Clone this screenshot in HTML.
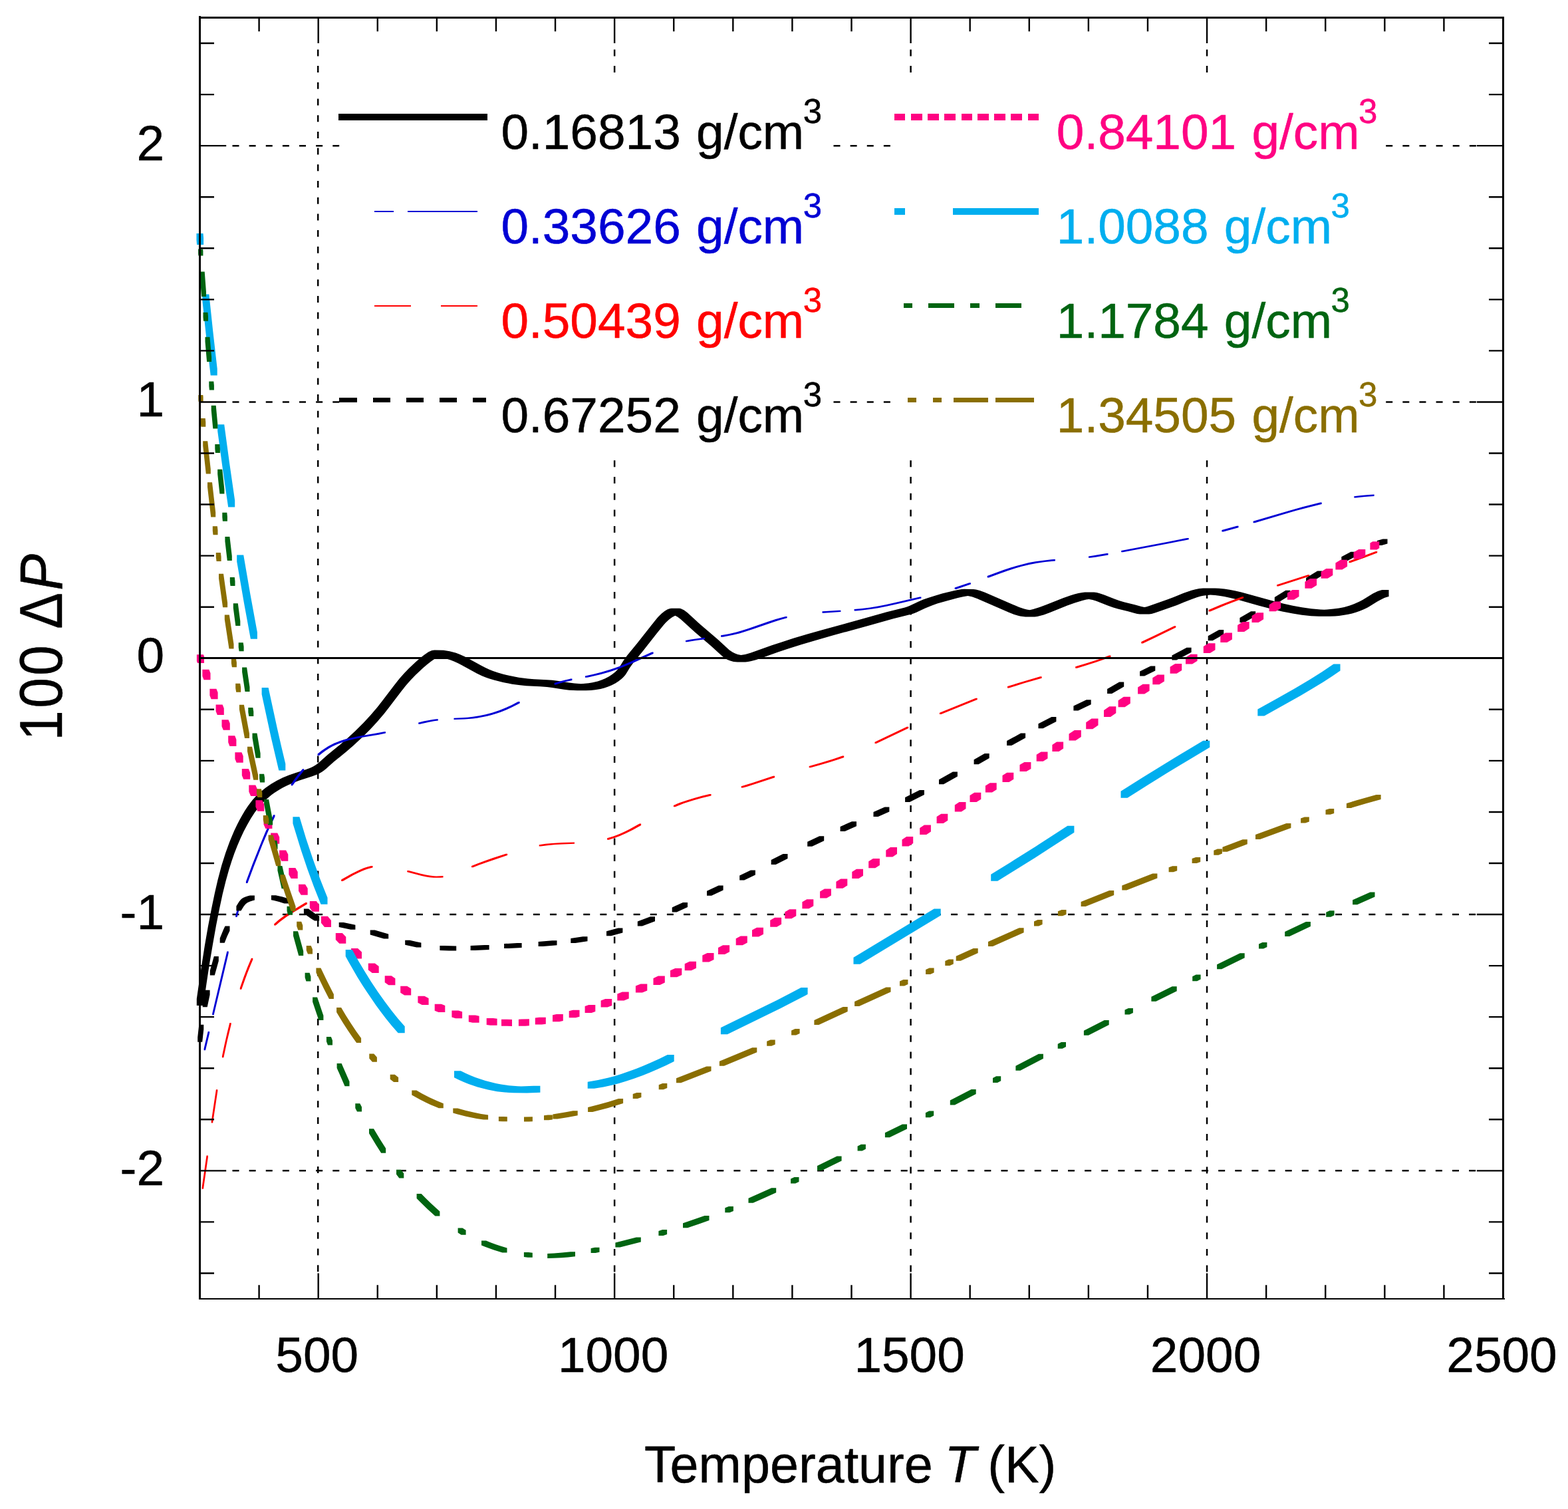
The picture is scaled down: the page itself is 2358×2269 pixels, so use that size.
<!DOCTYPE html>
<html lang="en"><head><meta charset="utf-8"><title>100 ΔP versus Temperature T (K)</title>
<style>html,body{margin:0;padding:0;background:#fff}body{width:2358px;height:2269px;overflow:hidden}svg{display:block}text{font-family:"Liberation Sans", sans-serif;stroke-width:0.5px;stroke-linejoin:round}</style>
</head><body>
<svg width="2358" height="2269" viewBox="0 0 2358 2269" role="img" aria-label="Plot of 100 ΔP against temperature T (K) for eight densities">
<rect x="0" y="0" width="2358" height="2269" fill="#fff"/>
<g id="grid" stroke="#000" stroke-width="2.5" fill="none">
<line x1="349.5" y1="219.15" x2="510.2" y2="219.15" stroke-dasharray="10 15.13"/>
<line x1="1253.5" y1="219.15" x2="1339.2" y2="219.15" stroke-dasharray="10 15.13"/>
<line x1="2084.2" y1="219.15" x2="2220.0" y2="219.15" stroke-dasharray="10 15.13"/>
<line x1="349.5" y1="604.45" x2="510.2" y2="604.45" stroke-dasharray="10 15.13"/>
<line x1="1253.5" y1="604.45" x2="1339.2" y2="604.45" stroke-dasharray="10 15.13"/>
<line x1="2084.2" y1="604.45" x2="2220.0" y2="604.45" stroke-dasharray="10 15.13"/>
<line x1="349.5" y1="1375.05" x2="2220.0" y2="1375.05" stroke-dasharray="10 15.13"/>
<line x1="349.5" y1="1760.35" x2="2220.0" y2="1760.35" stroke-dasharray="10 15.13"/>
<line x1="478.18" y1="74.4" x2="478.18" y2="1913.0" stroke-dasharray="10 14.70"/>
<line x1="924.14" y1="74.4" x2="924.14" y2="110.0" stroke-dasharray="10 14.70"/>
<line x1="924.14" y1="692.3" x2="924.14" y2="1913.0" stroke-dasharray="10 14.70"/>
<line x1="1369.59" y1="74.4" x2="1369.59" y2="110.0" stroke-dasharray="10 14.70"/>
<line x1="1369.59" y1="692.3" x2="1369.59" y2="1913.0" stroke-dasharray="10 14.70"/>
<line x1="1815.05" y1="74.4" x2="1815.05" y2="110.0" stroke-dasharray="10 14.70"/>
<line x1="1815.05" y1="692.3" x2="1815.05" y2="1913.0" stroke-dasharray="10 14.70"/>
</g>
<g id="curves" stroke="none">
<path fill="#000000" d="M327.5 1322.9L323 1342.4L318.1 1366L312.8 1393.5L308 1421L302.1 1458.5L295.8 1502.1L295.8 1512.1L305.8 1512.1L310.6 1478.4L315.1 1448.7L320.1 1419.2L325 1391.7L330.1 1366.1L334.7 1344.6L339.5 1325.1L344.3 1307.8L348.5 1294.4L352.5 1283.1L356.8 1271.9L361.5 1260.9L366.6 1250.1L372.2 1239.4L377.2 1230.7L382.7 1222.3L386.2 1217.5L389.9 1212.8L394.6 1207.6L398.1 1204L403.3 1199.4L407.9 1195.6L412.8 1192L419.5 1187.7L424.6 1184.7L430 1181.9L440.9 1176.9L450.3 1173.4L469.6 1167.3L477 1164.5L480.6 1162.8L484 1160.8L487.2 1158.5L490.3 1156L502 1145.6L520.5 1130.4L531.5 1120.9L544.4 1109.1L556.7 1096.7L566.9 1085.7L577.6 1073.2L585 1063.8L603.1 1039.9L610.6 1030.5L617.9 1022.3L624.9 1015L635.5 1005L641.6 999.8L647.9 994.7L651.1 992.4L654.4 990.3L657.8 988.7L659.6 988.1L664.6 988.9L672 990.7L677.7 992.5L683.3 994.7L688.8 997.2L694.1 1000L716.9 1012.5L724.1 1016L729.6 1018.3L735.2 1020.3L742.8 1022.6L756.4 1026L770.2 1028.7L782 1030.3L791.5 1031.2L812.6 1032.3L822.5 1033L830.4 1034L848 1036.7L855.9 1037.7L862 1038.1L868 1038.3L881.1 1038.3L888.6 1038L895.2 1037.3L903 1035.9L908.8 1034.5L914.5 1032.6L920 1030.3L925.3 1027.5L930.3 1024.3L935.1 1020.6L938.6 1017L941 1013.9L947.3 1003.7L953.2 995.5L967.2 978.4L988 952L997 940.9L1001.1 936.3L1006.2 931.4L1011 927.9L1015.3 925.7L1018.8 927.4L1023.8 931.2L1044.4 950.1L1069.5 971.4L1085.4 986.1L1090.1 989.7L1093.6 991.7L1097.3 993.3L1103.1 994.9L1109 995.4L1121 995.4L1124.9 995L1128.9 994.3L1136.7 992.3L1146.3 989L1170.8 980.3L1185.9 975.2L1204.9 969.2L1227.9 962.4L1253 955.3L1308.9 940L1343.5 930.3L1370.7 923.5L1374.5 922.2L1378.2 920.8L1390.9 914.8L1396.4 912.4L1402 910.2L1409.5 907.6L1422.9 903.7L1440.4 899.1L1448.3 897.3L1455.5 896.1L1461.6 897.3L1469.2 899.9L1517 920.7L1524.5 923.7L1530.2 925.5L1534.1 926.5L1538 927.1L1542 927.4L1556 927.4L1559.9 927L1563.8 926.1L1569.6 924.4L1579 921L1605 910.6L1616.3 906.4L1627.8 902.9L1633.6 901.6L1637.6 900.9L1643 902L1648.7 903.8L1665.8 910.6L1673.4 913.3L1681 915.5L1696.4 919.3L1706.2 922.1L1710.1 923L1714.1 923.5L1728 923.5L1731.9 922.9L1737.7 921.2L1769.8 909.9L1792.2 900.9L1799.8 898.2L1805.6 896.6L1809.5 895.8L1815.3 894.9L1820.1 894.5L1827.2 895.1L1833.2 895.8L1841.1 897.1L1849 898.7L1860.7 901.6L1893.3 910.7L1910.7 915.3L1928.3 919.5L1944 922.6L1957.8 924.7L1971.7 926.2L1983.7 926.7L1999.7 926.7L2007.6 926.4L2013.6 925.9L2021.6 924.8L2027.5 923.7L2033.3 922.4L2039.1 920.7L2044.8 918.8L2050.3 916.5L2055.7 913.9L2059.2 911.9L2071.2 904.6L2076.4 901.7L2081.8 899.1L2085.6 897.8L2088.5 897L2088.5 887L2078.5 887L2075.6 887.8L2071.8 889.1L2064.6 892.6L2049.2 901.9L2043.9 904.8L2036.6 908.1L2029.1 910.7L2021.4 912.9L2013.6 914.5L2005.6 915.6L1995.6 916.5L1991.3 916.7L1985.7 916.4L1971.8 915.2L1957.9 913.3L1944.1 910.7L1930.5 907.7L1914.9 903.8L1866.8 890.6L1857 888.3L1849.2 886.7L1841.2 885.5L1833.3 884.7L1827.3 884.4L1815.3 884.4L1809.3 884.6L1803.4 885.1L1797.5 886.2L1791.7 887.7L1782.2 890.9L1765.4 897.7L1756.1 901.2L1727.7 911.2L1723.8 912.4L1720.9 913.1L1716.2 912.1L1706.4 909.3L1691 905.5L1683.4 903.3L1675.8 900.6L1660.6 894.5L1653 892L1649.2 891.1L1645.3 890.6L1631.4 890.6L1627.5 890.9L1621.7 892L1615.8 893.4L1610.1 895.2L1598.7 899.2L1572.8 909.5L1563.4 913L1553.8 916.1L1548.5 917.2L1544.1 916.5L1540.2 915.5L1532.6 913L1499.5 898.8L1481.1 890.7L1473.5 887.9L1467.8 886.4L1463.9 885.9L1450.1 885.8L1446.1 886L1440.2 886.9L1434.3 888.2L1416.7 892.6L1405.2 895.9L1395.7 898.9L1388.3 901.6L1380.9 904.8L1368.2 910.8L1364.5 912.2L1360.7 913.5L1333.5 920.3L1297 930.6L1237.2 947L1214.1 953.5L1193 959.8L1174 965.9L1160.8 970.3L1128.6 981.7L1120.8 983.9L1114.3 985.1L1109.2 984L1105.4 982.6L1101.8 980.7L1096.9 977.4L1093.9 974.8L1079.5 961.4L1052.6 938.5L1033.8 921.2L1028.8 917.4L1025.2 915.7L1023.4 915.1L1021.6 914.8L1009.8 914.7L1007.9 914.9L1004.4 916.1L1002.6 916.9L999.3 918.9L994.7 922.7L991.1 926.3L988.3 929.3L979.3 940.4L958.4 966.9L943.2 985.5L937.3 993.7L931 1003.9L928.6 1007L925.1 1010.6L920.3 1014.3L915.3 1017.5L910 1020.3L904.5 1022.6L898.8 1024.5L891.1 1026.3L885.2 1027.3L877.1 1028.1L873.5 1028.2L863.9 1027.4L856 1026.4L838.4 1023.8L830.5 1022.8L822.6 1022.3L803 1021.3L794 1020.6L780.2 1018.7L766.4 1016L756.7 1013.7L749 1011.5L741.5 1009L735.9 1006.8L730.5 1004.3L725.1 1001.6L705.9 990.9L698.8 987.2L691.5 983.9L685.8 981.8L682 980.7L676.1 979.2L667 977.7L653.4 977.5L649.6 978.1L647.8 978.7L644.4 980.3L641.1 982.4L637.9 984.7L631.6 989.8L625.5 995L614.9 1005L607.9 1012.3L600.6 1020.5L593.1 1029.9L575 1053.8L567.6 1063.2L556.9 1075.7L546.7 1086.7L534.4 1099.1L521.5 1110.9L510.5 1120.4L492 1135.6L480.3 1146L477.2 1148.5L474 1150.8L470.6 1152.8L467 1154.5L459.6 1157.3L444.1 1162.2L434.6 1165.5L425.4 1169.3L416.4 1173.7L407.8 1178.7L399.5 1184.4L391.8 1190.7L384.6 1197.6L379.9 1202.8L376.2 1207.5L372.7 1212.3L368.2 1219L364.1 1225.9L360.2 1233L356.6 1240.1L352.3 1249.1L349.1 1256.4L345.3 1265.7L339.2 1282.5L333.2 1301.6Z"/>
<path fill="#0000d4" d="M312.7 1551.1L306.6 1576.8L306.6 1579.2L309 1579.2L315.1 1553.5L315.1 1551.1ZM341.3 1430.5L319.2 1523.9L319.2 1526.3L321.6 1526.3L342.4 1438.8L343.7 1432.9L343.7 1430.5ZM360.2 1354.9L354.2 1376.5L354.2 1378.9L356.6 1378.9L362.6 1357.3L362.6 1354.9ZM379.6 1299.5L369.9 1325.6L369.9 1328L372.3 1328L382 1301.9L394.5 1270.3L404 1248.1L413.5 1227.7L413.5 1225.3L411.1 1225.3L404.9 1238.4L399.1 1251.3L393.7 1264.2ZM443.4 1170.8L437.7 1178.9L437.7 1181.3L440.1 1181.3L448.2 1170L457.3 1158.6L457.3 1156.2L454.9 1156.2L449.5 1162.8ZM502.5 1117.6L493.8 1122.1L488.8 1125.2L483.9 1128.6L477.6 1133.5L477.6 1135.9L480 1135.9L484.7 1132.2L489.5 1128.7L494.5 1125.5L499.6 1122.6L506.7 1119.2L514 1116.4L523.4 1113.5L535.1 1110.7L545 1108.8L569.6 1104.7L580 1102.6L580 1100.2L577.6 1100.2L565.7 1102.5L540.6 1106.8L528.7 1109.2L521 1111.1L515.3 1112.8L507.9 1115.4ZM636.9 1084.5L629.2 1086.4L629.2 1088.8L631.6 1088.8L645.1 1085.7L652.9 1084.3L658.8 1083.6L658.8 1081.2L656.4 1081.2L650.5 1081.9ZM703.1 1078.7L694.6 1079.2L682.5 1079.7L682.5 1082.1L698.5 1081.6L711.4 1080.5L717.3 1079.7L725.1 1078.3L732.8 1076.7L738.6 1075.2L746.1 1073L753.6 1070.4L761 1067.5L768.2 1064.3L781.6 1057.5L781.6 1055.1L779.2 1055.1L769.4 1060.2L760.4 1064.3L751.2 1068L740 1071.7L730.4 1074.3L720.8 1076.3L711 1077.8ZM841.1 1024.7L833.6 1027.1L833.6 1029.5L836 1029.5L841.6 1027.7L847.3 1026L860.4 1023L860.4 1020.6L858 1020.6L856.5 1020.9L848.7 1022.7ZM905.1 1010.5L893.5 1013.4L879.9 1016.4L879.9 1018.8L882.3 1018.8L884.3 1018.4L894 1016.3L903.6 1014L917 1010.2L930.2 1005.7L939.4 1002.1L948.7 998.2L982.6 983L982.6 980.6L980.2 980.6L948.1 995L931.5 1001.9L918.4 1006.6ZM1038.9 961.5L1031 962.9L1031 965.3L1033.4 965.3L1045.2 963.2L1060.1 961.2L1060.1 958.8L1056.7 959ZM1107.5 950.5L1095.9 953.2L1084.1 955.3L1084.1 957.7L1086.5 957.7L1088.5 957.4L1102.2 954.8L1111.9 952.4L1121.4 949.5L1132.9 945.8L1165 934.7L1174.5 931.8L1183.6 929.3L1183.6 926.9L1181.2 926.9L1166.4 931.1L1155 934.8L1124.8 945.3L1115.2 948.3ZM1262 917.7L1236.5 919.3L1236.5 921.7L1238.9 921.7L1264.4 920.1L1264.4 917.7ZM1308.4 913.4L1296.5 915L1284.6 916.1L1284.6 918.5L1287 918.5L1294.9 917.8L1308.8 916.1L1320.6 914.2L1334.3 911.6L1349.9 908.1L1385.4 899.8L1385.4 897.4L1383 897.4L1347.5 905.7L1331.9 909.2L1320.2 911.5ZM1457.5 876.2L1435.7 883.5L1435.7 885.9L1438.1 885.9L1459.9 878.6L1459.9 876.2ZM1509.1 857.1L1484.7 866.1L1484.7 868.5L1487.1 868.5L1504 862.2L1515.3 858.2L1526.7 854.5L1536.3 851.8L1547.9 848.9L1559.6 846.7L1571.5 845L1586.9 843.4L1586.9 841L1584.5 841L1581 841.3L1567.1 842.9L1557.2 844.3L1547.4 846.1L1539.7 847.9L1530.1 850.4L1520.5 853.3ZM1644.9 835.3L1637 836.4L1637 838.8L1639.4 838.8L1647.3 837.7L1666.5 834.5L1666.5 832.1L1664.1 832.1ZM1754.9 814.9L1686.2 827.9L1686.2 830.3L1688.6 830.3L1757.3 817.3L1787.7 811.3L1787.7 808.9L1785.3 808.9ZM1860.1 790.8L1837.4 797L1837.4 799.4L1839.8 799.4L1862.5 793.2L1862.5 790.8ZM1938.4 767.9L1884.6 783.8L1884.6 786.2L1887 786.2L1927.3 774.2L1948.5 768.1L1969.7 762.4L1987.7 758L1987.7 755.6L1985.3 755.6L1959.6 762ZM2044.2 745.3L2036.3 746.2L2036.3 748.6L2038.7 748.6L2052.6 747L2066.6 746L2066.6 743.6L2058.2 744Z"/>
<path fill="#ff0000" d="M310.5 1737.6L303.6 1785.4L303.6 1787.8L306 1787.8L312.9 1740L312.9 1737.6ZM324.9 1638.3L317.7 1686.1L317.7 1688.5L320.1 1688.5L327.3 1640.7L327.3 1638.3ZM337.6 1570.4L333.9 1587.9L333.9 1590.3L336.3 1590.3L341.7 1565L347.7 1540.3L347.7 1537.9L345.3 1537.9L341.6 1552.9ZM366.2 1470.1L360.8 1485.4L360.8 1487.8L363.2 1487.8L367.9 1474.4L372.1 1462.9L376.7 1451.5L380.3 1443.1L380.3 1440.7L377.9 1440.7L372 1454.8ZM428.7 1376.1L419.2 1383.1L412.2 1389.2L412.2 1391.6L414.6 1391.6L421.6 1385.5L431.1 1378.5L441.2 1372L461.9 1359.4L461.9 1357L459.5 1357L438.8 1369.6ZM528.9 1313.7L513.2 1322.6L513.2 1325L515.6 1325L531.3 1316.1L538.4 1312.5L543.8 1310L549.3 1307.7L553 1306.4L560.5 1304.5L560.5 1302.1L558.1 1302.1L556.2 1302.5L552.4 1303.4L546.9 1305.3L539.6 1308.4ZM612.3 1311.3L634.2 1317.1L640.1 1318.3L646 1319.2L651.9 1319.7L655.8 1319.8L662.1 1319.8L666.5 1319.5L666.5 1317.1L656.3 1317.4L652.4 1317.2L646.5 1316.5L640.5 1315.5L632.6 1313.8L614.7 1308.9L612.3 1308.9ZM727.9 1294.7L718.5 1298.2L709 1301.9L709 1304.3L711.4 1304.3L720.9 1300.6L732.2 1296.4L763.1 1286.1L763.1 1283.7L760.7 1283.7L741.2 1290.1ZM829.6 1268L820.6 1268.8L810.7 1270.2L810.7 1272.6L813.1 1272.6L823 1271.2L835.1 1270.1L864 1268.8L864 1266.4L844.9 1267.1ZM931.6 1253.9L922.5 1257.4L913.1 1260.3L913.1 1262.7L915.5 1262.7L924.9 1259.8L932.2 1257.1L941.2 1253.1L951.9 1247.8L964.1 1241L964.1 1238.6L961.7 1238.6L945.9 1247.2L938.8 1250.7ZM1033.4 1203.2L1022.1 1207.1L1012.9 1210.9L1012.9 1213.3L1015.3 1213.3L1028.3 1208.1L1043.4 1203.2L1054.9 1200L1069.5 1196.4L1069.5 1194L1067.1 1194L1056.4 1196.6L1044.8 1199.7ZM1131.9 1176.9L1114.7 1182.2L1114.7 1184.6L1117.1 1184.6L1122.9 1182.9L1165.1 1169.2L1165.1 1166.8L1162.7 1166.8ZM1235.9 1146.5L1216.7 1151.9L1216.7 1154.3L1219.1 1154.3L1232.6 1150.6L1247.9 1146.1L1261.2 1141.8L1269.2 1139L1269.2 1136.6L1266.8 1136.6L1253.1 1141.3ZM1363.8 1092.7L1315.5 1115.7L1315.5 1118.1L1317.9 1118.1L1366.2 1095.1L1366.2 1092.7ZM1467.3 1049.7L1412.9 1071.7L1412.9 1074.1L1415.3 1074.1L1469.7 1052.1L1469.7 1049.7ZM1532.1 1026.7L1515 1032.1L1515 1034.5L1517.4 1034.5L1540.2 1027.3L1566.6 1019.7L1566.6 1017.3L1564.2 1017.3ZM1636.4 996.5L1617.2 1002.3L1617.2 1004.7L1619.6 1004.7L1631.1 1001.3L1648.3 995.8L1663.4 990.6L1670.4 988L1670.4 985.6L1668 985.6L1653.5 990.9ZM1734.4 956.6L1716.3 965.1L1716.3 967.5L1718.7 967.5L1738.6 958.1L1768.3 943.6L1768.3 941.2L1765.9 941.2ZM1836 909.3L1817.6 917.1L1817.6 919.5L1820 919.5L1843.9 909.5L1870.1 899.6L1870.1 897.2L1867.7 897.2L1850.8 903.5ZM1966.8 864.2L1920.1 879.2L1920.1 881.6L1922.5 881.6L1969.2 866.6L1969.2 864.2ZM2041.7 839.1L2028.5 843.8L2028.5 846.2L2030.9 846.2L2051.6 838.8L2071.2 831.3L2071.2 828.9L2068.8 828.9Z"/>
<path fill="#000000" d="M299.3 1540.8L297.2 1559.7L297.2 1566.7L304.2 1566.7L306.3 1547.8L306.3 1540.8ZM308.6 1488.7L304.7 1507.2L304.7 1514.2L311.7 1514.2L315.6 1495.7L315.6 1488.7ZM321.8 1438.1L315.8 1459.6L315.8 1466.6L322.8 1466.6L328.8 1445.1L328.8 1438.1ZM335.9 1397.9L330.7 1410.8L330.7 1417.8L337.7 1417.8L341.3 1408.5L345.5 1399.5L345.5 1392.5L338.5 1392.5ZM359.6 1355.8L355.4 1362.6L355.4 1369.6L362.4 1369.6L366.6 1362.8L369.3 1359.6L371.1 1358L372.6 1357L376.1 1355.4L379.9 1354.3L382.9 1353.6L382.9 1346.6L375.9 1346.6L372.9 1347.3L369.1 1348.4L365.6 1350L364.1 1351L362.3 1352.6ZM411.9 1354.1L419.7 1356L427.5 1358.4L434.5 1358.4L434.5 1351.4L424.8 1348.4L416.9 1346.7L414.9 1346.3L407.9 1346.3L407.9 1353.3ZM456.9 1373.6L468.1 1381.5L473.1 1384.4L480.1 1384.4L480.1 1377.4L473.5 1373.4L463.9 1366.6L456.9 1366.6ZM509.7 1394L527.4 1397.7L534.4 1397.7L534.4 1390.7L516.7 1387L509.7 1387ZM556.7 1405.4L577.2 1411.5L584.2 1411.5L584.2 1404.5L563.7 1398.4L556.7 1398.4ZM609.2 1420.7L626.4 1424.6L633.4 1424.6L633.4 1417.6L626 1416.1L616.2 1413.7L609.2 1413.7ZM661.4 1429L675.3 1429.5L686.2 1429.6L686.2 1422.6L668.4 1422L661.4 1422ZM728.6 1421L707.6 1422.1L707.6 1429.1L714.6 1429.1L735.6 1428L735.6 1421ZM777.6 1418L758.1 1419.1L758.1 1426.1L765.1 1426.1L784.6 1425L784.6 1418ZM830.5 1414.3L809.6 1416L809.6 1423L816.6 1423L837.5 1421.3L837.5 1414.3ZM876.5 1408.2L858.3 1411.1L858.3 1418.1L865.3 1418.1L883.5 1415.2L883.5 1408.2ZM929.4 1395.4L912 1400.3L912 1407.3L919 1407.3L936.4 1402.4L936.4 1395.4ZM978 1378.3L958.8 1385.6L958.8 1392.6L965.8 1392.6L985 1385.3L985 1378.3ZM1027 1356.9L1010.7 1364.4L1010.7 1371.4L1017.7 1371.4L1034 1363.9L1034 1356.9ZM1080.6 1331.5L1063 1339.8L1063 1346.8L1070 1346.8L1087.6 1338.5L1087.6 1331.5ZM1128.9 1308.5L1112.2 1316.6L1112.2 1323.6L1119.2 1323.6L1135.9 1315.5L1135.9 1308.5ZM1177.5 1284L1159.7 1293L1159.7 1300L1166.7 1300L1184.5 1291L1184.5 1284ZM1232.2 1257.2L1214.2 1265.8L1214.2 1272.8L1221.2 1272.8L1239.2 1264.2L1239.2 1257.2ZM1281 1235.3L1263.6 1242.9L1263.6 1249.9L1270.6 1249.9L1288 1242.3L1288 1235.3ZM1330.4 1213.4L1313.5 1221L1313.5 1228L1320.5 1228L1337.4 1220.4L1337.4 1213.4ZM1382.9 1187.9L1361.1 1198.9L1361.1 1205.9L1368.1 1205.9L1389.9 1194.9L1389.9 1187.9ZM1432.9 1160.5L1412 1172.2L1412 1179.2L1419 1179.2L1439.9 1167.5L1439.9 1160.5ZM1480.7 1133.1L1464.6 1142.3L1464.6 1149.3L1471.6 1149.3L1487.7 1140.1L1487.7 1133.1ZM1535.1 1102.5L1514.1 1114.1L1514.1 1121.1L1521.1 1121.1L1542.1 1109.5L1542.1 1102.5ZM1581.4 1077.9L1561.5 1088.3L1561.5 1095.3L1568.5 1095.3L1588.4 1084.9L1588.4 1077.9ZM1633.7 1052.2L1614.4 1061.4L1614.4 1068.4L1621.4 1068.4L1640.7 1059.2L1640.7 1052.2ZM1683.2 1025.5L1665.1 1036L1665.1 1043L1672.1 1043L1690.2 1032.5L1690.2 1025.5ZM1730.3 1001.6L1714.1 1009.4L1714.1 1016.4L1721.1 1016.4L1737.3 1008.6L1737.3 1001.6ZM1784.6 973.8L1762.4 985.4L1762.4 992.4L1769.4 992.4L1791.6 980.8L1791.6 973.8ZM1833.2 947L1816.7 956.3L1816.7 963.3L1823.7 963.3L1840.2 954L1840.2 947ZM1881.2 919.2L1864.4 929.1L1864.4 936.1L1871.4 936.1L1888.2 926.2L1888.2 919.2ZM1933.4 887.8L1916.8 897.9L1916.8 904.9L1923.8 904.9L1940.4 894.8L1940.4 887.8ZM1981.2 858.6L1964.1 869L1964.1 876L1971.1 876L1988.2 865.6L1988.2 858.6ZM2031.4 829.8L2017.3 837.3L2017.3 844.3L2024.3 844.3L2038.4 836.8L2038.4 829.8ZM2079.5 810.5L2070.9 813.1L2070.9 820.1L2077.9 820.1L2086.5 817.5L2086.5 810.5Z"/>
<path fill="#ff0282" d="M295.9 994.2L297 997L307 997L307 987L305.9 984.2L295.9 984.2ZM304.4 1016.7L306.5 1022.3L316.5 1022.3L316.5 1012.3L314.4 1006.7L304.4 1006.7ZM315.4 1045.7L317.6 1051.3L327.6 1051.3L327.6 1041.3L325.4 1035.7L315.4 1035.7ZM324.6 1069.4L326.8 1075L336.8 1075L336.8 1065L334.6 1059.4L324.6 1059.4ZM333.5 1092.2L335.8 1097.8L345.8 1097.8L345.8 1087.8L343.5 1082.2L333.5 1082.2ZM343.2 1116.3L345.4 1121.9L355.4 1121.9L355.4 1111.9L353.2 1106.3L343.2 1106.3ZM353.4 1141.3L355.7 1146.8L365.7 1146.8L365.7 1136.8L363.4 1131.3L353.4 1131.3ZM363.8 1166.1L366.2 1171.7L376.2 1171.7L376.2 1161.7L373.8 1156.1L363.8 1156.1ZM374.3 1190.5L377.1 1196.9L387.1 1196.9L387.1 1186.9L384.3 1180.5L374.3 1180.5ZM384.4 1213.3L387.3 1219.7L397.3 1219.7L397.3 1209.7L394.4 1203.3L384.4 1203.3ZM396.5 1239.8L399.4 1246.1L409.4 1246.1L409.4 1236.1L406.5 1229.8L396.5 1229.8ZM407.2 1262.4L410.2 1268.7L420.2 1268.7L420.2 1258.7L417.2 1252.4L407.2 1252.4ZM420.1 1288.5L423.3 1294.7L433.3 1294.7L433.3 1284.7L430.1 1278.5L420.1 1278.5ZM434.3 1314.9L437.7 1321L447.7 1321L447.7 1311L444.3 1304.9L434.3 1304.9ZM449 1339.8L452.7 1345.7L462.7 1345.7L462.7 1335.7L459 1329.8L449 1329.8ZM465.8 1365.1L469.9 1370.8L479.9 1370.8L479.9 1360.8L475.8 1355.1L465.8 1355.1ZM482.9 1387.7L488 1393.9L498 1393.9L498 1383.9L492.9 1377.7L482.9 1377.7ZM504.8 1412.9L510.3 1418.7L520.3 1418.7L520.3 1408.7L514.8 1402.9L504.8 1402.9ZM528.1 1436.1L534 1441.5L544 1441.5L544 1431.5L538.1 1426.1L528.1 1426.1ZM553.8 1458.4L559.7 1463.1L569.7 1463.1L569.7 1453.1L563.8 1448.4L553.8 1448.4ZM578.7 1477.2L584.4 1481.2L594.4 1481.2L594.4 1471.2L588.7 1467.2L578.7 1467.2ZM602.2 1492.8L608.2 1496.5L618.2 1496.5L618.2 1486.5L612.2 1482.8L602.2 1482.8ZM628.4 1507.8L634.6 1511L644.6 1511L644.6 1501L638.4 1497.8L628.4 1497.8ZM653.7 1519.8L659.3 1522.1L669.3 1522.1L669.3 1512.1L663.7 1509.8L653.7 1509.8ZM679.4 1529.5L685.1 1531.3L695.1 1531.3L695.1 1521.3L689.4 1519.5L679.4 1519.5ZM704.8 1536.5L710.6 1537.7L720.6 1537.7L720.6 1527.7L714.8 1526.5L704.8 1526.5ZM731.7 1541L737.6 1541.7L747.6 1541.7L747.6 1531.7L741.7 1531L731.7 1531ZM754 1542.8L770 1542.9L770 1532.9L754 1532.8ZM783.9 1532.5L779.9 1532.7L779.9 1542.7L789.9 1542.7L795.9 1542.3L795.9 1532.3ZM810.8 1529.8L804.8 1530.5L804.8 1540.5L814.8 1540.5L820.8 1539.8L820.8 1529.8ZM836.8 1525L831 1526.3L831 1536.3L841 1536.3L846.8 1535L846.8 1525ZM861.5 1518.7L855.7 1520.3L855.7 1530.3L865.7 1530.3L871.5 1528.7L871.5 1518.7ZM885.3 1511.1L879.6 1513L879.6 1523L889.6 1523L895.3 1521.1L895.3 1511.1ZM910.2 1501.9L903.6 1504.4L903.6 1514.4L913.6 1514.4L920.2 1511.9L920.2 1501.9ZM935.7 1491.4L928.3 1494.5L928.3 1504.5L938.3 1504.5L945.7 1501.4L945.7 1491.4ZM963.3 1479.4L955.9 1482.6L955.9 1492.6L965.9 1492.6L973.3 1489.4L973.3 1479.4ZM989.8 1467.6L982.5 1470.9L982.5 1480.9L992.5 1480.9L999.8 1477.6L999.8 1467.6ZM1015.3 1456L1008 1459.3L1008 1469.3L1018 1469.3L1025.3 1466L1025.3 1456ZM1037 1445.8L1029.7 1449.2L1029.7 1459.2L1039.7 1459.2L1047 1455.8L1047 1445.8ZM1063.5 1433.1L1056.3 1436.6L1056.3 1446.6L1066.3 1446.6L1073.5 1443.1L1073.5 1433.1ZM1087.1 1421.3L1080 1424.9L1080 1434.9L1090 1434.9L1097.1 1431.3L1097.1 1421.3ZM1113.8 1407.6L1106.7 1411.3L1106.7 1421.3L1116.7 1421.3L1123.8 1417.6L1123.8 1407.6ZM1138 1394.7L1131 1398.5L1131 1408.5L1141 1408.5L1148 1404.7L1148 1394.7ZM1165.1 1379.8L1158.2 1383.7L1158.2 1393.7L1168.2 1393.7L1175.1 1389.8L1175.1 1379.8ZM1187.3 1367.3L1180.4 1371.2L1180.4 1381.2L1190.4 1381.2L1197.3 1377.3L1197.3 1367.3ZM1213.3 1352.2L1206.4 1356.3L1206.4 1366.3L1216.4 1366.3L1223.3 1362.2L1223.3 1352.2ZM1239.9 1336.4L1233.1 1340.5L1233.1 1350.5L1243.1 1350.5L1249.9 1346.4L1249.9 1336.4ZM1264.3 1321.5L1257.4 1325.7L1257.4 1335.7L1267.4 1335.7L1274.3 1331.5L1274.3 1321.5ZM1288 1306.7L1281.3 1310.9L1281.3 1320.9L1291.3 1320.9L1298 1316.7L1298 1306.7ZM1312.9 1290.9L1306.2 1295.2L1306.2 1305.2L1316.2 1305.2L1322.9 1300.9L1322.9 1290.9ZM1339 1274L1332.3 1278.4L1332.3 1288.4L1342.3 1288.4L1349 1284L1349 1274ZM1363.2 1258.1L1356.5 1262.5L1356.5 1272.5L1366.5 1272.5L1373.2 1268.1L1373.2 1258.1ZM1389.9 1240.5L1383.2 1244.9L1383.2 1254.9L1393.2 1254.9L1399.9 1250.5L1399.9 1240.5ZM1415.3 1223.7L1408.6 1228.1L1408.6 1238.1L1418.6 1238.1L1425.3 1233.7L1425.3 1223.7ZM1442.5 1206.1L1435.8 1210.4L1435.8 1220.4L1445.8 1220.4L1452.5 1216.1L1452.5 1206.1ZM1465.3 1191.7L1458.5 1195.9L1458.5 1205.9L1468.5 1205.9L1475.3 1201.7L1475.3 1191.7ZM1488.7 1177.3L1481.9 1181.4L1481.9 1191.4L1491.9 1191.4L1498.7 1187.3L1498.7 1177.3ZM1514.3 1161.8L1507.5 1165.9L1507.5 1175.9L1517.5 1175.9L1524.3 1171.8L1524.3 1161.8ZM1540.4 1146L1533.5 1150.1L1533.5 1160.1L1543.5 1160.1L1550.4 1156L1550.4 1146ZM1565.5 1130.5L1558.7 1134.7L1558.7 1144.7L1568.7 1144.7L1575.5 1140.5L1575.5 1130.5ZM1589.1 1115.5L1582.4 1119.9L1582.4 1129.9L1592.4 1129.9L1599.1 1125.5L1599.1 1115.5ZM1615.8 1097.9L1607.5 1103.5L1607.5 1113.5L1617.5 1113.5L1625.8 1107.9L1625.8 1097.9ZM1641.5 1080.6L1633.2 1086.2L1633.2 1096.2L1643.2 1096.2L1651.5 1090.6L1651.5 1080.6ZM1668.3 1062.3L1660 1067.9L1660 1077.9L1670 1077.9L1678.3 1072.3L1678.3 1062.3ZM1689.8 1047.7L1681.6 1053.3L1681.6 1063.3L1691.6 1063.3L1699.8 1057.7L1699.8 1047.7ZM1718.6 1028.7L1711.1 1033.6L1711.1 1043.6L1721.1 1043.6L1728.6 1038.7L1728.6 1028.7ZM1740.9 1014.5L1733.3 1019.3L1733.3 1029.3L1743.3 1029.3L1750.9 1024.5L1750.9 1014.5ZM1767.2 998.1L1759.6 1002.8L1759.6 1012.8L1769.6 1012.8L1777.2 1008.1L1777.2 998.1ZM1790.6 983.7L1783 988.4L1783 998.4L1793 998.4L1800.6 993.7L1800.6 983.7ZM1817.5 967.2L1809.8 971.9L1809.8 981.9L1819.8 981.9L1827.5 977.2L1827.5 967.2ZM1842.9 951.4L1835.3 956.1L1835.3 966.1L1845.3 966.1L1852.9 961.4L1852.9 951.4ZM1868.7 935L1861.1 939.9L1861.1 949.9L1871.1 949.9L1878.7 945L1878.7 935ZM1890.1 921.2L1882.5 926.1L1882.5 936.1L1892.5 936.1L1900.1 931.2L1900.1 921.2ZM1916.1 904.4L1908.6 909.3L1908.6 919.3L1918.6 919.3L1926.1 914.4L1926.1 904.4ZM1943.5 886.9L1935.9 891.7L1935.9 901.7L1945.9 901.7L1953.5 896.9L1953.5 886.9ZM1970.1 870L1962.4 874.8L1962.4 884.8L1972.4 884.8L1980.1 880L1980.1 870ZM1994.3 854.9L1986.6 859.7L1986.6 869.7L1996.6 869.7L2004.3 864.9L2004.3 854.9ZM2016.1 841.8L2008.4 846.4L2008.4 856.4L2018.4 856.4L2026.1 851.8L2026.1 841.8ZM2043.3 825.9L2035.5 830.4L2035.5 840.4L2045.5 840.4L2053.3 835.9L2053.3 825.9ZM2064.3 814.3L2060.4 816.4L2060.4 826.4L2070.4 826.4L2074.3 824.3L2074.3 814.3Z"/>
<path fill="#00aeef" d="M295.5 361L296.1 368L306.1 368L306.1 358L305.5 351L295.5 351ZM304.4 452.6L310.7 512.3L316.7 564.5L326.7 564.5L326.7 554.5L320.3 498.3L314.4 442.6L304.4 442.6ZM327.2 648.3L335.5 709.7L343.2 762.6L353.2 762.6L353.2 752.6L345 695.7L337.2 638.3L327.2 638.3ZM356.2 844.5L367.1 907.6L376.9 960.7L386.9 960.7L386.9 950.7L376.4 893.6L366.2 834.5L356.2 834.5ZM393.6 1044.1L407.6 1108.7L419.3 1158.4L429.3 1158.4L429.3 1148.4L423 1122.1L416.8 1094.7L403.6 1034.1L393.6 1034.1ZM440.4 1238.2L452.7 1278.3L462.2 1306.6L471.8 1332.8L482.5 1359.7L492.5 1359.7L492.5 1349.7L486.9 1335.8L481.1 1321L470.3 1291L460.2 1260.7L450.4 1228.2L440.4 1228.2ZM524.5 1446.8L537.6 1469.4L545.1 1481.4L551.7 1491.6L565.5 1511.7L572.7 1521.5L580.1 1531.2L589 1542.2L598.7 1553.3L608.7 1553.3L608.7 1543.3L599 1532.2L588.8 1519.6L579 1506.6L568.5 1491.7L558.3 1476.5L548.7 1461.1L539.4 1445.5L529.7 1428L519.7 1428L519.7 1438ZM690.1 1623.8L697.4 1627L704.8 1629.9L718 1634.4L725.8 1636.6L733.6 1638.5L747.5 1641.2L759.4 1642.6L772.4 1643.3L792.4 1643.4L812.4 1642.8L812.4 1632.8L802.4 1632.8L783.8 1633.4L778.4 1633.2L765.4 1632.2L753.5 1630.5L745.6 1629L737.7 1627.1L729.9 1625L722.3 1622.6L714.8 1619.9L707.4 1617L700.1 1613.8L693 1610.3L683 1610.3L683 1620.3ZM915 1620.6L899.4 1624.1L883.7 1626.7L883.7 1636.7L893.7 1636.7L907.5 1634.4L921.1 1631.5L930.8 1629L942.2 1625.6L953.6 1621.8L966.7 1616.9L977.8 1612.4L988.8 1607.7L1001.6 1601.9L1013.7 1596.1L1013.7 1586.1L1003.7 1586.1L991.6 1591.9L978.8 1597.7L967.8 1602.4L956.7 1606.9L945.5 1611.1L934.1 1615L924.6 1617.9ZM1168.3 1503.9L1083.9 1545.3L1083.9 1555.3L1093.9 1555.3L1174.7 1515.7L1192.5 1506.6L1212 1496.4L1214.6 1495L1214.6 1485L1204.6 1485L1186.1 1494.8ZM1404.7 1366.6L1283.5 1439.7L1283.5 1449.7L1293.5 1449.7L1414.7 1376.6L1414.7 1366.6ZM1519.1 1296.9L1490.2 1314.8L1490.2 1324.8L1500.2 1324.8L1556.2 1289.9L1615.4 1251.7L1615.4 1241.7L1605.4 1241.7L1558 1272.4ZM1717.6 1169.5L1685.5 1189.8L1685.5 1199.8L1695.5 1199.8L1725.9 1180.6L1756.4 1161.6L1787.2 1142.9L1819.3 1123.7L1819.3 1113.7L1809.3 1113.7L1763.5 1141.2ZM1921 1050.1L1891.3 1066.6L1891.3 1076.6L1901.3 1076.6L1955.4 1046.3L1974.3 1035.1L1989.6 1025.7L2003.1 1017L2015.5 1008.6L2015.5 998.6L2005.5 998.6L1988.1 1010.3L1969.4 1022L1947.1 1035.3Z"/>
<path fill="#006411" d="M298.1 381.5L298.4 384.5L305.4 384.5L305.4 377.5L305.1 374.5L298.1 374.5ZM300.7 415.5L303 445.9L310 445.9L310 438.9L307.7 408.5L300.7 408.5ZM305.5 476.8L306 482.8L313 482.8L313 475.8L312.5 469.8L305.5 469.8ZM308.5 513.7L311.1 544L318.1 544L318.1 537L315.5 506.7L308.5 506.7ZM314.3 580.4L314.9 586.4L321.9 586.4L321.9 579.4L321.3 573.4L314.3 573.4ZM317.7 616.7L320.3 644.6L327.3 644.6L327.3 637.6L324.7 609.7L317.7 609.7ZM323.3 674.9L323.9 680.9L330.9 680.9L330.9 673.9L330.3 667.9L323.3 667.9ZM327.2 712.7L330.4 742.6L337.4 742.6L337.4 735.6L334.2 705.7L327.2 705.7ZM334.3 777.8L334.9 783.8L341.9 783.8L341.9 776.8L341.3 770.8L334.3 770.8ZM338.4 814.1L341.8 842.9L348.8 842.9L348.8 835.9L345.4 807.1L338.4 807.1ZM345.8 875.1L346.5 881.1L353.5 881.1L353.5 874.1L352.8 868.1L345.8 868.1ZM350.8 914.3L354.3 941.1L361.3 941.1L361.3 934.1L357.8 907.3L350.8 907.3ZM358.7 973.3L359.6 979.2L366.6 979.2L366.6 972.2L365.7 966.3L358.7 966.3ZM364.1 1010.4L368.5 1040L375.5 1040L375.5 1033L371.1 1003.4L364.1 1003.4ZM373.3 1071.1L374.3 1077.1L381.3 1077.1L381.3 1070.1L380.3 1064.1L373.3 1064.1ZM379.5 1109.6L384.6 1139.7L391.6 1139.7L391.6 1132.7L386.5 1102.6L379.5 1102.6ZM390.1 1170.7L391.1 1176.6L398.1 1176.6L398.1 1169.6L397.1 1163.7L390.1 1163.7ZM397.1 1209L403.1 1240.4L410.1 1240.4L410.1 1233.4L404.1 1202L397.1 1202ZM409.3 1270.8L410.5 1276.7L417.5 1276.7L417.5 1269.7L416.3 1263.8L409.3 1263.8ZM417.4 1309L423.6 1336.3L430.6 1336.3L430.6 1329.3L424.4 1302L417.4 1302ZM431.5 1369.8L433 1375.7L440 1375.7L440 1368.7L438.5 1362.8L431.5 1362.8ZM441 1407.2L449.2 1437.1L456.2 1437.1L456.2 1430.1L448 1400.2L441 1400.2ZM458.6 1469.8L460.4 1475.6L467.4 1475.6L467.4 1468.6L465.6 1462.8L458.6 1462.8ZM470.1 1506.6L479.4 1534.1L486.4 1534.1L486.4 1527.1L477.1 1499.6L470.1 1499.6ZM490.9 1566L493 1571.6L500 1571.6L500 1564.6L497.9 1559L490.9 1559ZM506.6 1605.9L518.5 1633.3L525.5 1633.3L525.5 1626.3L513.6 1598.9L506.6 1598.9ZM534.3 1666.2L537 1671.5L544 1671.5L544 1664.5L541.3 1659.2L534.3 1659.2ZM555 1704.3L565.4 1721.5L573.2 1733.7L580.2 1733.7L580.2 1726.7L571.3 1712.8L562 1697.3L555 1697.3ZM596 1765.8L600.3 1771.4L607.3 1771.4L607.3 1764.4L603 1758.8L596 1758.8ZM631.8 1807.3L642.5 1817.8L654.4 1828.4L661.4 1828.4L661.4 1821.4L655 1815.8L647.7 1809.1L640.5 1802.1L633.6 1794.9L626.6 1794.9L626.6 1801.9ZM688.6 1853.6L693.6 1856.7L700.6 1856.7L700.6 1849.7L695.6 1846.6L688.6 1846.6ZM729.5 1874.7L742.6 1879.5L755.5 1883.5L762.5 1883.5L762.5 1876.5L753.4 1873.8L745.8 1871.2L738.3 1868.4L731 1865.4L724 1865.4L724 1872.4ZM787.9 1890L793.8 1890.7L800.8 1890.7L800.8 1883.7L794.9 1883L787.9 1883ZM833.2 1884.5L823.2 1884.9L823.2 1891.9L832.2 1891.8L844.1 1891.3L854.1 1890.4L865 1889.2L865 1882.2L858 1882.2L845.1 1883.6ZM894.5 1875.8L888.6 1877L888.6 1884L895.6 1884L901.5 1882.8L901.5 1875.8ZM956.8 1860.5L925.4 1868.6L925.4 1875.6L932.4 1875.6L963.8 1867.5L963.8 1860.5ZM996.1 1849.1L990.4 1850.9L990.4 1857.9L997.4 1857.9L1003.1 1856.1L1003.1 1849.1ZM1059.5 1828L1027 1839.3L1027 1846.3L1034 1846.3L1051 1840.5L1066.5 1835L1066.5 1828ZM1095.9 1814L1090.3 1816.2L1090.3 1823.2L1097.3 1823.2L1102.9 1821L1102.9 1814ZM1160.2 1786.2L1125.5 1801.7L1125.5 1808.7L1132.5 1808.7L1149 1801.5L1167.2 1793.2L1167.2 1786.2ZM1194.5 1770L1189.1 1772.6L1189.1 1779.6L1196.1 1779.6L1201.5 1777L1201.5 1770ZM1258.6 1738.5L1229 1753.1L1229 1760.1L1236 1760.1L1265.6 1745.5L1265.6 1738.5ZM1294.9 1720.7L1289.6 1723.4L1289.6 1730.4L1296.6 1730.4L1301.9 1727.7L1301.9 1720.7ZM1357 1690.5L1330.9 1703.2L1330.9 1710.2L1337.9 1710.2L1364 1697.5L1364 1690.5ZM1397.2 1670.6L1391.9 1673.2L1391.9 1680.2L1398.9 1680.2L1404.2 1677.6L1404.2 1670.6ZM1460.7 1637.9L1428.8 1654.5L1428.8 1661.5L1435.8 1661.5L1467.7 1644.9L1467.7 1637.9ZM1498.2 1618.2L1493 1620.9L1493 1627.9L1500 1627.9L1505.2 1625.2L1505.2 1618.2ZM1561.9 1584.7L1527.4 1602.8L1527.4 1609.8L1534.4 1609.8L1568.9 1591.7L1568.9 1584.7ZM1596 1567L1590.7 1569.7L1590.7 1576.7L1597.7 1576.7L1603 1574L1603 1567ZM1660.7 1534.1L1629.9 1549.7L1629.9 1556.7L1636.9 1556.7L1667.7 1541.1L1667.7 1534.1ZM1696.9 1515.9L1691.5 1518.6L1691.5 1525.6L1698.5 1525.6L1703.9 1522.9L1703.9 1515.9ZM1762.7 1483.3L1731.4 1498.8L1731.4 1505.8L1738.4 1505.8L1769.7 1490.3L1769.7 1483.3ZM1798.6 1465.6L1793.2 1468.2L1793.2 1475.2L1800.2 1475.2L1805.6 1472.6L1805.6 1465.6ZM1864.7 1433.3L1830.1 1450.2L1830.1 1457.2L1837.1 1457.2L1871.7 1440.3L1871.7 1433.3ZM1898.4 1417.1L1893 1419.6L1893 1426.6L1900 1426.6L1905.4 1424.1L1905.4 1417.1ZM1963.9 1385.9L1932.2 1400.9L1932.2 1407.9L1939.2 1407.9L1970.9 1392.9L1970.9 1385.9ZM1999.6 1369.2L1994.2 1371.8L1994.2 1378.8L2001.2 1378.8L2006.6 1376.2L2006.6 1369.2ZM2060.5 1341.4L2034.1 1353.3L2034.1 1360.3L2041.1 1360.3L2067.5 1348.4L2067.5 1341.4Z"/>
<path fill="#8a6e00" d="M298.3 601L298.6 604L305.6 604L305.6 597L305.3 594L298.3 594ZM301.7 635.9L302.3 641.8L309.3 641.8L309.3 634.8L308.7 628.9L301.7 628.9ZM305.2 670.2L309.8 712.4L316.8 712.4L316.8 705.4L312.2 663.2L305.2 663.2ZM312 732.3L317.2 777.5L324.2 777.5L324.2 770.5L319 725.3L312 725.3ZM319.8 798.3L320.5 804.3L327.5 804.3L327.5 797.3L326.8 791.3L319.8 791.3ZM324.8 838L325.6 843.9L332.6 843.9L332.6 836.9L331.8 831L324.8 831ZM329 869.7L335.1 913.2L342.1 913.2L342.1 906.2L336 862.7L329 862.7ZM337.8 931.5L344.5 975.5L351.5 975.5L351.5 968.5L344.8 924.5L337.8 924.5ZM347.9 997.2L348.9 1003.2L355.9 1003.2L355.9 996.2L354.9 990.2L347.9 990.2ZM354.2 1034.8L355.2 1040.7L362.2 1040.7L362.2 1033.7L361.2 1027.8L354.2 1027.8ZM359.9 1066.8L368 1110.1L375 1110.1L375 1103.1L366.9 1059.8L359.9 1059.8ZM372 1129.7L381.2 1172.8L388.2 1172.8L388.2 1165.8L379 1122.7L372 1122.7ZM385.9 1193.2L387.3 1199.1L394.3 1199.1L394.3 1192.1L392.9 1186.2L385.9 1186.2ZM395.8 1233L397.3 1238.8L404.3 1238.8L404.3 1231.8L402.8 1226L395.8 1226ZM403.6 1262.4L415.2 1302.2L422.2 1302.2L422.2 1295.2L416.1 1274.6L410.6 1255.4L403.6 1255.4ZM421.4 1322.2L430.2 1348.7L437.6 1369.9L444.6 1369.9L444.6 1362.9L436.6 1339.8L428.4 1315.2L421.4 1315.2ZM446.2 1392.8L448.3 1398.4L455.3 1398.4L455.3 1391.4L453.2 1385.8L446.2 1385.8ZM460.7 1429L463 1434.5L470 1434.5L470 1427.5L467.7 1422L460.7 1422ZM475.4 1462.4L486.7 1485.9L494.9 1501.9L501.9 1501.9L501.9 1494.9L491.9 1475.3L482.4 1455.4L475.4 1455.4ZM506.1 1522L516.4 1539.1L522.9 1549.1L529.7 1559L536.1 1567.9L543.1 1567.9L543.1 1560.9L535.5 1550.4L527.7 1538.8L520.2 1527L513.1 1515L506.1 1515ZM555.3 1591.6L559.9 1596.8L566.9 1596.8L566.9 1589.8L562.3 1584.6L555.3 1584.6ZM586.7 1622.7L592.1 1627.1L599.1 1627.1L599.1 1620.1L593.7 1615.7L586.7 1615.7ZM619.3 1646.4L631.5 1653.3L640.4 1657.8L647.7 1661.2L657 1665.1L659.8 1666.2L666.8 1666.2L666.8 1659.2L656.6 1655L645.6 1649.9L634.9 1644.4L626.3 1639.4L619.3 1639.4ZM687.2 1675.3L700.9 1678.7L716.7 1681.9L727.1 1683.6L734.1 1683.6L734.1 1676.6L723.7 1674.9L711.8 1672.6L700 1669.8L688.3 1666.6L681.3 1666.6L681.3 1673.6ZM749.9 1685.9L755.8 1686.3L762.8 1686.3L762.8 1679.3L756.9 1678.9L749.9 1678.9ZM800.9 1679.2L788 1679.5L788 1686.5L795 1686.5L800.9 1686.2ZM823.9 1676.5L818 1677.2L818 1684.2L825 1684.2L830.9 1683.5L830.9 1676.5ZM850.9 1672.3L831.3 1675.5L831.3 1682.5L838.3 1682.5L854 1680L868.7 1677.2L868.7 1670.2L861.7 1670.2ZM899.6 1661L884.1 1665.1L884.1 1672.1L891.1 1672.1L914.4 1665.9L937.1 1659.1L937.1 1652.1L930.1 1652.1L915.1 1656.7ZM957.4 1643.1L951.7 1645L951.7 1652L958.7 1652L964.4 1650.1L964.4 1643.1ZM996.3 1629L990.7 1631.2L990.7 1638.2L997.7 1638.2L1003.3 1636L1003.3 1629ZM1062.5 1603.5L1017 1621.2L1017 1628.2L1024 1628.2L1069.5 1610.5L1069.5 1603.5ZM1131.3 1575.2L1081.9 1595.7L1081.9 1602.7L1088.9 1602.7L1138.3 1582.2L1138.3 1575.2ZM1158.7 1563.4L1153.2 1565.8L1153.2 1572.8L1160.2 1572.8L1165.7 1570.4L1165.7 1563.4ZM1195.6 1547L1190.1 1549.5L1190.1 1556.5L1197.1 1556.5L1202.6 1554L1202.6 1547ZM1267.7 1514L1224.4 1533.9L1224.4 1540.9L1231.4 1540.9L1274.7 1521L1274.7 1514ZM1332.5 1484.6L1285.1 1506.1L1285.1 1513.1L1292.1 1513.1L1339.5 1491.6L1339.5 1484.6ZM1358.4 1473L1353 1475.4L1353 1482.4L1360 1482.4L1365.4 1480L1365.4 1473ZM1397.6 1455.5L1392.1 1458L1392.1 1465L1399.1 1465L1404.6 1462.5L1404.6 1455.5ZM1426.8 1442.6L1421.3 1445L1421.3 1452L1428.3 1452L1433.8 1449.6L1433.8 1442.6ZM1463.7 1426.1L1437.7 1437.7L1437.7 1444.7L1444.7 1444.7L1470.7 1433.1L1470.7 1426.1ZM1532.6 1395.2L1486 1416L1486 1423L1493 1423L1539.6 1402.2L1539.6 1395.2ZM1560.6 1383.1L1555 1385.4L1555 1392.4L1562 1392.4L1567.6 1390.1L1567.6 1383.1ZM1596.5 1367.9L1590.9 1370.2L1590.9 1377.2L1597.9 1377.2L1603.5 1374.9L1603.5 1367.9ZM1668.2 1338.9L1625.6 1355.9L1625.6 1362.9L1632.6 1362.9L1675.2 1345.9L1675.2 1338.9ZM1733.4 1313.6L1687.3 1331.4L1687.3 1338.4L1694.3 1338.4L1740.4 1320.6L1740.4 1313.6ZM1763.2 1302.2L1757.6 1304.3L1757.6 1311.3L1764.6 1311.3L1770.2 1309.2L1770.2 1302.2ZM1798.2 1289L1792.6 1291.1L1792.6 1298.1L1799.6 1298.1L1805.2 1296L1805.2 1289ZM1830.9 1276.6L1825.3 1278.7L1825.3 1285.7L1832.3 1285.7L1837.9 1283.6L1837.9 1276.6ZM1868.8 1262.3L1838.4 1273.8L1838.4 1280.8L1845.4 1280.8L1875.8 1269.3L1875.8 1262.3ZM1934.4 1238.1L1888 1255.1L1888 1262.1L1895 1262.1L1941.4 1245.1L1941.4 1238.1ZM1961.8 1228.5L1956.1 1230.5L1956.1 1237.5L1963.1 1237.5L1968.8 1235.5L1968.8 1228.5ZM1999.2 1216L1993.5 1217.8L1993.5 1224.8L2000.5 1224.8L2006.2 1223L2006.2 1216ZM2040.3 1203.3L2024.9 1207.9L2024.9 1214.9L2031.9 1214.9L2054.9 1208.1L2076.6 1202.1L2076.6 1195.1L2069.6 1195.1Z"/>
</g>
<line x1="300.50" y1="989.50" x2="2260.50" y2="989.50" stroke="#000" stroke-width="2.8"/>
<g id="ticks" stroke="#000" stroke-width="2.4" fill="none">
<path d="M389.59 26.50v20.8M389.59 1953.00v-20.8M478.68 26.50v38.6M478.68 1953.00v-38.6M567.77 26.50v20.8M567.77 1953.00v-20.8M656.86 26.50v20.8M656.86 1953.00v-20.8M745.95 26.50v20.8M745.95 1953.00v-20.8M835.05 26.50v20.8M835.05 1953.00v-20.8M924.14 26.50v38.6M924.14 1953.00v-38.6M1013.23 26.50v20.8M1013.23 1953.00v-20.8M1102.32 26.50v20.8M1102.32 1953.00v-20.8M1191.41 26.50v20.8M1191.41 1953.00v-20.8M1280.50 26.50v20.8M1280.50 1953.00v-20.8M1369.59 26.50v38.6M1369.59 1953.00v-38.6M1458.68 26.50v20.8M1458.68 1953.00v-20.8M1547.77 26.50v20.8M1547.77 1953.00v-20.8M1636.86 26.50v20.8M1636.86 1953.00v-20.8M1725.95 26.50v20.8M1725.95 1953.00v-20.8M1815.05 26.50v38.6M1815.05 1953.00v-38.6M1904.14 26.50v20.8M1904.14 1953.00v-20.8M1993.23 26.50v20.8M1993.23 1953.00v-20.8M2082.32 26.50v20.8M2082.32 1953.00v-20.8M2171.41 26.50v20.8M2171.41 1953.00v-20.8M300.50 1914.47h21.5M2260.50 1914.47h-21.5M300.50 1837.41h21.5M2260.50 1837.41h-21.5M300.50 1760.35h39.7M2260.50 1760.35h-39.7M300.50 1683.29h21.5M2260.50 1683.29h-21.5M300.50 1606.23h21.5M2260.50 1606.23h-21.5M300.50 1529.17h21.5M2260.50 1529.17h-21.5M300.50 1452.11h21.5M2260.50 1452.11h-21.5M300.50 1375.05h39.7M2260.50 1375.05h-39.7M300.50 1297.99h21.5M2260.50 1297.99h-21.5M300.50 1220.93h21.5M2260.50 1220.93h-21.5M300.50 1143.87h21.5M2260.50 1143.87h-21.5M300.50 1066.81h21.5M2260.50 1066.81h-21.5M300.50 912.69h21.5M2260.50 912.69h-21.5M300.50 835.63h21.5M2260.50 835.63h-21.5M300.50 758.57h21.5M2260.50 758.57h-21.5M300.50 681.51h21.5M2260.50 681.51h-21.5M300.50 604.45h39.7M2260.50 604.45h-39.7M300.50 527.39h21.5M2260.50 527.39h-21.5M300.50 450.33h21.5M2260.50 450.33h-21.5M300.50 373.27h21.5M2260.50 373.27h-21.5M300.50 296.21h21.5M2260.50 296.21h-21.5M300.50 219.15h39.7M2260.50 219.15h-39.7M300.50 142.09h21.5M2260.50 142.09h-21.5M300.50 65.03h21.5M2260.50 65.03h-21.5"/>
</g>
<g id="frame" fill="#000" shape-rendering="crispEdges">
<rect x="299" y="24" width="3" height="1930"/>
<rect x="2259" y="25" width="3" height="1929"/>
<rect x="299" y="25" width="1963" height="3"/>
<rect x="299" y="1952" width="1964" height="2"/>
</g>
<g id="legend" shape-rendering="crispEdges">
<rect x="509" y="171" width="224" height="10" fill="#000"/>
<path fill="#0000d4" d="M563 317h29v2h-29zM613 317h105v2h-105z"/>
<path fill="#ff0000" d="M563 459h55v2h-55zM663 459h55v2h-55z"/>
<path fill="#000" d="M510 598h27v7h-27zM561 598h26v7h-26zM611 598h26v7h-26zM661 598h26v7h-26zM711 598h20v7h-20z"/>
<path fill="#ff0282" d="M1345 171h16v10h-16zM1370 171h17v10h-17zM1395 171h17v10h-17zM1420 171h17v10h-17zM1446 171h16v10h-16zM1470 171h17v10h-17zM1495 171h17v10h-17zM1520 171h17v10h-17zM1546 171h16v10h-16z"/>
<path fill="#00aeef" d="M1345 313h16v10h-16zM1433 313h129v10h-129z"/>
<path fill="#006411" d="M1359 456h13v7h-13zM1396 456h39v7h-39zM1459 456h14v7h-14zM1497 456h39v7h-39z"/>
<path fill="#8a6e00" d="M1365 598h13v7h-13zM1403 598h13v7h-13zM1434 598h52v7h-52zM1497 598h58v7h-58z"/>
</g>
<g id="legendtext" font-size="74.80" word-spacing="2.50">
<text x="753.4" y="224.0" fill="#000" stroke="#000">0.16813 g/cm<tspan dx="-1.5" dy="-39.5" font-size="51.0">3</tspan></text>
<text x="753.4" y="366.1" fill="#0000d4" stroke="#0000d4">0.33626 g/cm<tspan dx="-1.5" dy="-39.5" font-size="51.0">3</tspan></text>
<text x="753.4" y="508.3" fill="#ff0000" stroke="#ff0000">0.50439 g/cm<tspan dx="-1.5" dy="-39.5" font-size="51.0">3</tspan></text>
<text x="753.4" y="650.4" fill="#000" stroke="#000">0.67252 g/cm<tspan dx="-1.5" dy="-39.5" font-size="51.0">3</tspan></text>
<text x="1588.8" y="224.0" fill="#ff0282" stroke="#ff0282">0.84101 g/cm<tspan dx="-1.5" dy="-39.5" font-size="51.0">3</tspan></text>
<text x="1588.8" y="366.1" fill="#00aeef" stroke="#00aeef">1.0088 g/cm<tspan dx="-1.5" dy="-39.5" font-size="51.0">3</tspan></text>
<text x="1588.8" y="508.3" fill="#006411" stroke="#006411">1.1784 g/cm<tspan dx="-1.5" dy="-39.5" font-size="51.0">3</tspan></text>
<text x="1588.8" y="650.4" fill="#8a6e00" stroke="#8a6e00">1.34505 g/cm<tspan dx="-1.5" dy="-39.5" font-size="51.0">3</tspan></text>
</g>
<g id="ticklabels" font-size="74.80" fill="#000" stroke="#000">
<text x="476.68" y="2063.3" text-anchor="middle">500</text>
<text x="922.14" y="2063.3" text-anchor="middle">1000</text>
<text x="1367.59" y="2063.3" text-anchor="middle">1500</text>
<text x="1813.05" y="2063.3" text-anchor="middle">2000</text>
<text x="2258.50" y="2063.3" text-anchor="middle">2500</text>
<text x="247.0" y="240.65" text-anchor="end">2</text>
<text x="247.0" y="625.95" text-anchor="end">1</text>
<text x="247.0" y="1011.25" text-anchor="end">0</text>
<text x="247.0" y="1396.55" text-anchor="end">-1</text>
<text x="247.0" y="1781.85" text-anchor="end">-2</text>
</g>
<text x="1278.6" y="2228.6" font-size="77.30" word-spacing="-3.9" text-anchor="middle" fill="#000" stroke="#000">Temperature <tspan font-style="italic">T</tspan> (K)</text>
<text transform="translate(93.4 971.8) rotate(-90) scale(0.900 1)" font-size="91.20" letter-spacing="3.50" text-anchor="middle" fill="#000" stroke="#000">100 Δ<tspan font-style="italic">P</tspan></text>
</svg>
</body></html>
